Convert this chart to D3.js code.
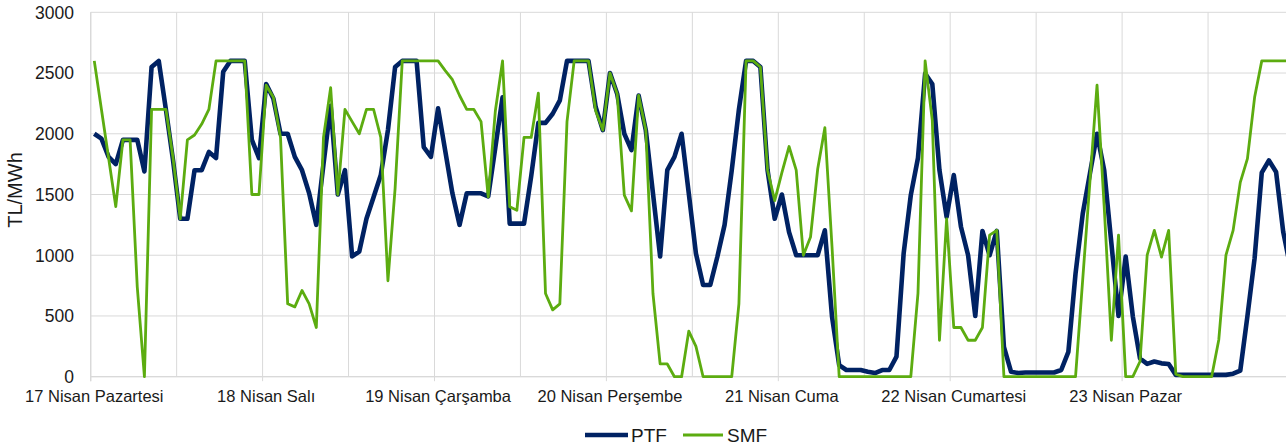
<!DOCTYPE html>
<html>
<head>
<meta charset="utf-8">
<script src="https://cdn.jsdelivr.net/npm/d3@7"></script>
<style>
  html, body { margin: 0; padding: 0; background: #ffffff; }
  svg { display: block; font-family: "Liberation Sans", Arial, sans-serif; }
</style>
</head>
<body>
<svg id="chart" width="1286" height="445"></svg>
<script>
const dayLabels = ["17 Nisan Pazartesi", "18 Nisan Salı", "19 Nisan Çarşamba", "20 Nisan Perşembe", "21 Nisan Cuma", "22 Nisan Cumartesi", "23 Nisan Pazar"];
const yTicks = [0, 500, 1000, 1500, 2000, 2500, 3000];
const seriesNames = ["PTF", "SMF"];

const ptf = [
  2000, 1960, 1810, 1750, 1950, 1950, 1950, 1690, 2550, 2600, 2200, 1780,
  1300, 1300, 1700, 1700, 1850, 1800, 2510, 2600, 2600, 2600, 1950, 1800,
  2410, 2290, 2000, 2000, 1810, 1700, 1510, 1250, 1750, 2230, 1500, 1700,
  990, 1030, 1300, 1480, 1660, 2030, 2550, 2600, 2600, 2600, 1890, 1810,
  2210, 1860, 1510, 1250, 1510, 1510, 1510, 1485, 1890, 2300, 1260, 1260,
  1260, 1650, 2090, 2090, 2165, 2275, 2600, 2600, 2600, 2600, 2220, 2030,
  2500, 2330, 2000, 1865, 2315, 2030, 1510, 990, 1700, 1810, 2000, 1510,
  1015, 755, 755, 990, 1250, 1700, 2200, 2600, 2600, 2550, 1700, 1300,
  1500, 1190, 1000, 1000, 1000, 1000, 1205, 495, 95, 55, 55, 55,
  40, 30, 55, 55, 165, 1015, 1495, 1800, 2495, 2410, 1700, 1315,
  1660, 1235, 1000, 500, 1200, 1000, 1200, 245, 40, 30, 35, 35,
  35, 35, 35, 55, 205, 850, 1340, 1670, 2000, 1700, 1100, 500,
  990, 495, 150, 105, 125, 110, 105, 15, 15, 15, 15, 15,
  15, 15, 15, 25, 50, 500, 975, 1680, 1780, 1685, 1190, 900
];

const smf = [
  2600, 2200, 1800, 1400, 1950, 1950, 740, 0, 2200, 2200, 2200, 1800,
  1300, 1950, 1990, 2080, 2200, 2600, 2600, 2600, 2600, 2600, 1500, 1500,
  2400, 2300, 1970, 600, 575, 710, 600, 405, 1970, 2380, 1500, 2200,
  2100, 2000, 2200, 2200, 1970, 790, 1550, 2600, 2600, 2600, 2600, 2600,
  2600, 2520, 2445, 2315, 2200, 2200, 2100, 1480, 2190, 2600, 1400, 1370,
  1970, 1970, 2335, 685, 550, 600, 2100, 2600, 2600, 2600, 2190, 2030,
  2500, 2330, 1495, 1365, 2315, 2030, 685, 105, 105, 0, 0, 375,
  250, 0, 0, 0, 0, 0, 600, 2600, 2600, 2550, 1700, 1450,
  1680, 1895, 1700, 1000, 1150, 1710, 2050, 1070, 0, 0, 0, 0,
  0, 0, 0, 0, 0, 0, 0, 685, 2600, 2110, 300, 1300,
  405, 405, 300, 300, 405, 1165, 1205, 0, 0, 0, 0, 0,
  0, 0, 0, 0, 0, 0, 800, 1600, 2400, 1400, 300, 1165,
  0, 0, 125, 1000, 1205, 985, 1205, 20, 0, 0, 0, 0,
  0, 305, 1000, 1205, 1600, 1795, 2300, 2600, 2600, 2600, 2600, 2600
];

const hoursPerDay = 24;
const n = ptf.length;

const svg = d3.select("#chart");
const plotLeft = 90.7, plotTop = 12.3, plotBottom = 376.7;
const dayWidth = 171.9;
const plotRight = plotLeft + dayWidth * dayLabels.length;

const x = d3.scalePoint().domain(d3.range(n)).range([plotLeft, plotRight]).padding(0.5);
const step = x.step();
const y = d3.scaleLinear().domain([0, 3000]).range([plotBottom, plotTop]);

const gridColor = "#d9d9d9";

// horizontal gridlines
svg.append("g").selectAll("line").data(yTicks).join("line")
  .attr("x1", plotLeft).attr("x2", plotRight)
  .attr("y1", d => y(d)).attr("y2", d => y(d))
  .attr("stroke", gridColor).attr("stroke-width", 1);

// vertical gridlines every 12 hours (category boundaries)
const vBounds = d3.range(0, n, 12);
svg.append("g").selectAll("line").data(vBounds).join("line")
  .attr("x1", d => x(d) - step / 2)
  .attr("x2", d => x(d) - step / 2)
  .attr("y1", plotTop).attr("y2", d => d % hoursPerDay === 0 ? plotBottom + 4.5 : plotBottom)
  .attr("stroke", gridColor).attr("stroke-width", 1);

// axis lines
svg.append("line").attr("x1", plotLeft).attr("x2", plotRight).attr("y1", plotBottom).attr("y2", plotBottom)
  .attr("stroke", gridColor).attr("stroke-width", 1.3);
svg.append("line").attr("x1", plotLeft).attr("x2", plotLeft).attr("y1", plotTop).attr("y2", plotBottom + 4.5)
  .attr("stroke", gridColor).attr("stroke-width", 1.3);

// y tick labels
svg.append("g").selectAll("text").data(yTicks).join("text")
  .attr("x", 74).attr("y", d => y(d)).attr("dy", "0.36em")
  .attr("text-anchor", "end").attr("font-size", "17.5px").attr("fill", "#1a1a1a")
  .text(d => d);

// y title
svg.append("text")
  .attr("transform", "translate(21.5,190) rotate(-90)")
  .attr("text-anchor", "middle").attr("font-size", "20px").attr("fill", "#1a1a1a")
  .text("TL/MWh");

// x labels
svg.append("g").selectAll("text").data(dayLabels).join("text")
  .attr("x", (d, i) => x(i * hoursPerDay)).attr("y", 402)
  .attr("text-anchor", "middle").attr("font-size", "16.5px").attr("fill", "#1a1a1a")
  .text(d => d);

const colors = { PTF: "#002263", SMF: "#5cac10" };
const widths = { PTF: 4.6, SMF: 2.8 };

const line = d3.line().x((d, i) => x(i)).y(d => y(d));

svg.append("path").datum(ptf).attr("d", line)
  .attr("fill", "none").attr("stroke", colors.PTF).attr("stroke-width", widths.PTF)
  .attr("stroke-linejoin", "round");
svg.append("path").datum(smf).attr("d", line)
  .attr("fill", "none").attr("stroke", colors.SMF).attr("stroke-width", widths.SMF)
  .attr("stroke-linejoin", "round");

// legend
const legend = svg.append("g");
const legendItems = [
  { name: seriesNames[0], x1: 585, x2: 628, tx: 631 },
  { name: seriesNames[1], x1: 683, x2: 723, tx: 727 }
];
legendItems.forEach(it => {
  legend.append("line").attr("x1", it.x1).attr("x2", it.x2).attr("y1", 435).attr("y2", 435)
    .attr("stroke", colors[it.name]).attr("stroke-width", widths[it.name]);
  legend.append("text").attr("x", it.tx).attr("y", 442).attr("font-size", "19px")
    .attr("fill", "#1a1a1a").text(it.name);
});
</script>
</body>
</html>
